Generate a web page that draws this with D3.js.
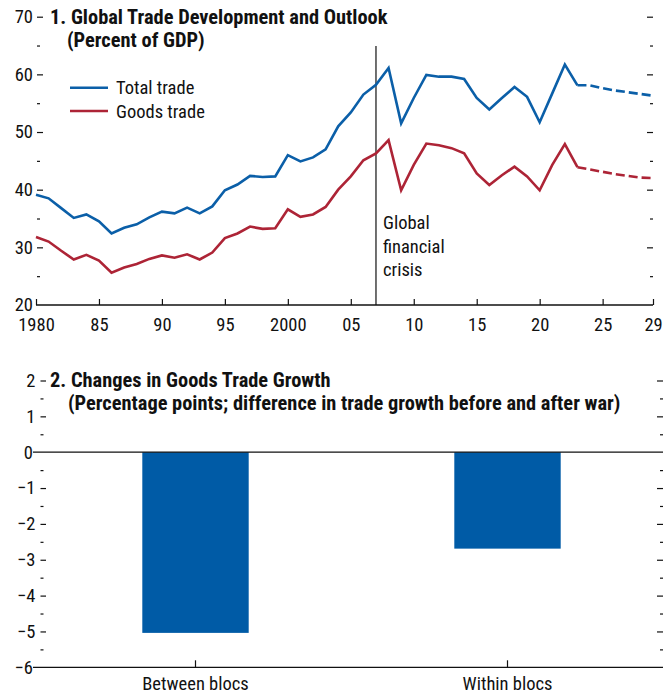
<!DOCTYPE html>
<html>
<head>
<script src="https://d3js.org/d3.v7.min.js"></script>
<style>
  body { margin: 0; background: #fff; }
  text { font-family: "Roboto Condensed", "Open Sans", sans-serif; fill: #111; }
  .title { font-weight: bold; font-size: 20.4px; }
  .lbl { font-size: 18.5px; }
</style>
</head>
<body>
<svg width="672" height="698"></svg>
<script>
// ---- panel 1 data (percent of GDP) ----
var years = d3.range(1980, 2030);
var totalTrade = [39.1, 38.5, 36.8, 35.1, 35.7, 34.5, 32.4, 33.4, 34.0, 35.2,
                  36.2, 35.9, 36.9, 35.9, 37.1, 39.9, 40.9, 42.4, 42.2, 42.3,
                  46.0, 44.9, 45.6, 47.0, 51.0, 53.4, 56.5, 58.2, 61.1, 51.5,
                  55.9, 59.9, 59.6, 59.6, 59.2, 55.9, 53.9, 55.9, 57.8, 56.1,
                  51.7, 56.7, 61.7, 58.1, 58.1, 57.6, 57.2, 56.9, 56.6, 56.3];
var goodsTrade = [31.8, 31.0, 29.4, 27.9, 28.7, 27.7, 25.6, 26.5, 27.1, 28.0,
                  28.6, 28.2, 28.8, 27.9, 29.1, 31.6, 32.4, 33.6, 33.2, 33.3,
                  36.6, 35.3, 35.7, 37.0, 40.0, 42.3, 45.1, 46.3, 48.6, 39.9,
                  44.3, 48.0, 47.7, 47.2, 46.3, 42.8, 40.8, 42.5, 44.0, 42.3,
                  39.9, 44.3, 47.9, 43.9, 43.5, 43.1, 42.7, 42.4, 42.1, 42.0];
var lastActual = 2023;
var crisisYear = 2007;
var xTickYears = [1980, 1985, 1990, 1995, 2000, 2005, 2010, 2015, 2020, 2025, 2029];
var xTickLabels = ["1980", "85", "90", "95", "2000", "05", "10", "15", "20", "25", "29"];
var yTicks1 = [20, 30, 40, 50, 60, 70];
var yMinor1 = [25, 35, 45, 55, 65];

// ---- panel 2 data (percentage points) ----
var blocs = ["Between blocs", "Within blocs"];
var blocChange = [-5.04, -2.69];
var yTicks2 = [2, 1, 0, -1, -2, -3, -4, -5, -6];
var yMinor2 = [1.5, 0.5, -0.5, -1.5, -2.5, -3.5, -4.5, -5.5];

var blue = "#0b5fa8", red = "#ad2436", barBlue = "#005ba6";
var svg = d3.select("svg");
var minus = function(d) { return d < 0 ? "\u2212" + Math.abs(d) : String(d); };

// ================= panel 1 =================
var x1 = d3.scaleLinear().domain([1980, 2029]).range([36, 653]);
var y1 = d3.scaleLinear().domain([20, 70]).range([305, 16.7]);
var p1 = svg.append("g");

function styleAxis(g) {
  g.select(".domain").remove();
  g.selectAll("line").attr("stroke", "#111").attr("stroke-width", 1.2);
  g.selectAll("text").attr("class", "lbl").attr("font-family", null).attr("font-size", null);
}

p1.append("g").attr("transform", "translate(43,0)")
  .call(d3.axisLeft(y1).tickValues(yTicks1.slice(1)).tickSize(6).tickPadding(4))
  .call(styleAxis);
p1.append("g").attr("transform", "translate(33,0)")
  .call(d3.axisLeft(y1).tickValues([20]).tickSize(0).tickPadding(0))
  .call(styleAxis);
p1.append("g").attr("transform", "translate(40,0)")
  .call(d3.axisLeft(y1).tickValues(yMinor1).tickSize(3).tickFormat(""))
  .call(styleAxis);
p1.append("g").attr("transform", "translate(647,0)")
  .call(d3.axisRight(y1).tickValues(yTicks1.slice(1)).tickSize(6).tickFormat(""))
  .call(styleAxis);
p1.append("g").attr("transform", "translate(650,0)")
  .call(d3.axisRight(y1).tickValues(yMinor1).tickSize(3).tickFormat(""))
  .call(styleAxis);

p1.append("g").attr("transform", "translate(0,305)")
  .call(d3.axisBottom(x1).tickValues(xTickYears).tickSize(-6).tickPadding(13)
        .tickFormat(function(d, i) { return xTickLabels[i]; }))
  .call(styleAxis);
p1.append("line").attr("x1", x1(1980)).attr("x2", x1(2029))
  .attr("y1", y1(20)).attr("y2", y1(20)).attr("stroke", "#111").attr("stroke-width", 1.3);

// crisis marker
p1.append("line").attr("x1", x1(crisisYear)).attr("x2", x1(crisisYear))
  .attr("y1", 46).attr("y2", y1(20)).attr("stroke", "#111").attr("stroke-width", 1.2);
p1.append("text").attr("class", "lbl").attr("x", x1(crisisYear) + 7).attr("y", 229)
  .selectAll("tspan").data(["Global", "financial", "crisis"]).enter().append("tspan")
  .attr("x", x1(crisisYear) + 7).attr("dy", function(d, i) { return i ? 23.5 : 0; })
  .text(function(d) { return d; });

var line1 = d3.line().x(function(d) { return x1(d[0]); }).y(function(d) { return y1(d[1]); });
function drawSeries(vals, color) {
  var pts = years.map(function(yr, i) { return [yr, vals[i]]; });
  p1.append("path").datum(pts.filter(function(d) { return d[0] <= lastActual; }))
    .attr("d", line1).attr("fill", "none").attr("stroke", color).attr("stroke-width", 2.6)
    .attr("stroke-linejoin", "miter");
  p1.append("path").datum(pts.filter(function(d) { return d[0] >= lastActual; }))
    .attr("d", line1).attr("fill", "none").attr("stroke", color).attr("stroke-width", 2.6)
    .attr("stroke-dasharray", "9,4");
}
drawSeries(totalTrade, blue);
drawSeries(goodsTrade, red);

// legend
var legend = [["Total trade", blue, 87.7], ["Goods trade", red, 111]];
legend.forEach(function(d) {
  p1.append("line").attr("x1", 70).attr("x2", 108).attr("y1", d[2]).attr("y2", d[2])
    .attr("stroke", d[1]).attr("stroke-width", 2.6);
  p1.append("text").attr("class", "lbl").attr("x", 116).attr("y", d[2] + 6.5).text(d[0]);
});

p1.append("text").attr("class", "title").attr("x", 50).attr("y", 23.5).text("1. Global Trade Development and Outlook");
p1.append("text").attr("class", "title").attr("x", 67).attr("y", 47).text("(Percent of GDP)");

// ================= panel 2 =================
var y2 = d3.scaleLinear().domain([-6, 2]).range([667.3, 380.5]);
var x2 = d3.scaleBand().domain(blocs).range([39.5, 663.5]).paddingInner(0.659).paddingOuter(0.3295);
var p2 = svg.append("g");

p2.append("g").attr("transform", "translate(46,0)")
  .call(d3.axisLeft(y2).tickValues(yTicks2.filter(function(d) { return d !== 0 && d !== -6; }))
        .tickSize(5.5).tickPadding(5).tickFormat(minus))
  .call(styleAxis);
p2.append("g").attr("transform", "translate(36,0)")
  .call(d3.axisLeft(y2).tickValues([0, -6]).tickSize(0).tickPadding(3).tickFormat(minus))
  .call(styleAxis);
p2.append("g").attr("transform", "translate(43.5,0)")
  .call(d3.axisLeft(y2).tickValues(yMinor2).tickSize(3).tickFormat(""))
  .call(styleAxis);
p2.append("g").attr("transform", "translate(657,0)")
  .call(d3.axisRight(y2).tickValues(yTicks2.filter(function(d) { return d !== 0 && d !== -6; }))
        .tickSize(6).tickFormat(""))
  .call(styleAxis);
p2.append("g").attr("transform", "translate(660,0)")
  .call(d3.axisRight(y2).tickValues(yMinor2).tickSize(3).tickFormat(""))
  .call(styleAxis);

p2.selectAll("rect.bar").data(blocs).enter().append("rect").attr("class", "bar")
  .attr("x", function(d) { return x2(d); })
  .attr("width", x2.bandwidth())
  .attr("y", y2(0))
  .attr("height", function(d, i) { return y2(blocChange[i]) - y2(0); })
  .attr("fill", barBlue);

[0, -6].forEach(function(v) {
  p2.append("line").attr("x1", 33).attr("x2", 663).attr("y1", y2(v)).attr("y2", y2(v))
    .attr("stroke", "#111").attr("stroke-width", 1.3);
});

p2.append("g").attr("transform", "translate(0," + y2(-6) + ")")
  .call(d3.axisBottom(x2).tickSize(-7).tickPadding(10))
  .call(styleAxis);

p2.append("text").attr("class", "title").attr("x", 50).attr("y", 387).text("2. Changes in Goods Trade Growth");
p2.append("text").attr("class", "title").attr("x", 68).attr("y", 410)
  .text("(Percentage points; difference in trade growth before and after war)");
</script>
</body>
</html>
